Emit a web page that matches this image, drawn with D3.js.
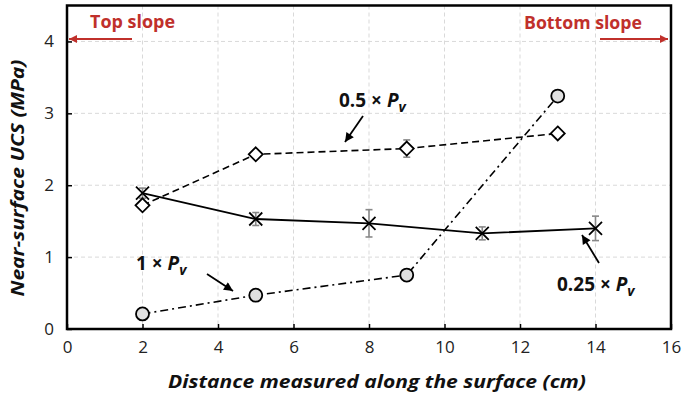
<!DOCTYPE html>
<html><head><meta charset="utf-8">
<script src="https://cdn.jsdelivr.net/npm/d3@7"></script>
<style>body{margin:0;background:#fff;} svg{display:block;font-family:"Open Sans",sans-serif;}</style>
</head><body><svg id="c" width="683" height="395"></svg>
<script>
// ---- data ----
const xTicks = [0, 2, 4, 6, 8, 10, 12, 14, 16];
const yTicks = [0, 1, 2, 3, 4];
const pv025X = [2, 5, 8, 11, 14];
const pv025Y = [1.89, 1.53, 1.47, 1.33, 1.40];
const pv025Err = [0.07, 0.09, 0.19, 0.09, 0.17];
const pv05X = [2, 5, 9, 13];
const pv05Y = [1.72, 2.43, 2.51, 2.72];
const pv05Err = [0, 0, 0.12, 0];
const pv1X = [2, 5, 9, 13];
const pv1Y = [0.21, 0.47, 0.75, 3.24];
const xTitle = "Distance measured along the surface (cm)";
const yTitle = "Near-surface UCS (MPa)";

// ---- layout ----
const svg = d3.select("#c");
const L = 67, R = 671, T = 5.5, B = 329;
const x = d3.scaleLinear().domain([0, 16]).range([L, R]);
const y = d3.scaleLinear().domain([0, 4.5]).range([B, T]);
const red = "#c0302b";

// grid
const g = svg.append("g");
g.selectAll(".vg").data(xTicks.filter(d => d > 0 && d < 16)).enter().append("line")
  .attr("x1", d => x(d)).attr("x2", d => x(d)).attr("y1", T).attr("y2", B)
  .attr("stroke", "#d9d9d9").attr("stroke-dasharray", "4,3").attr("stroke-width", 1);
g.selectAll(".hg").data(yTicks.filter(d => d > 0)).enter().append("line")
  .attr("x1", L).attr("x2", R).attr("y1", d => y(d)).attr("y2", d => y(d))
  .attr("stroke", "#d9d9d9").attr("stroke-dasharray", "4,3").attr("stroke-width", 1);

// axes
const xAxis = d3.axisBottom(x).tickValues(xTicks).tickFormat(d3.format("d")).tickSizeInner(-5).tickSizeOuter(0).tickPadding(12);
const yAxis = d3.axisLeft(y).tickValues(yTicks).tickFormat(d3.format("d")).tickSizeInner(-5).tickSizeOuter(0).tickPadding(13);
const gx = svg.append("g").attr("transform", `translate(0,${B})`).call(xAxis);
const gy = svg.append("g").attr("transform", `translate(${L},0)`).call(yAxis);
[gx, gy].forEach(a => {
  a.select(".domain").remove();
  a.selectAll(".tick line").attr("stroke", "#000").attr("stroke-width", 1.5);
  a.selectAll(".tick text").attr("font-size", 17).attr("fill", "#222").attr("font-family", "Open Sans");
});

// frame
svg.append("rect").attr("x", L).attr("y", T).attr("width", R - L).attr("height", B - T)
  .attr("fill", "none").attr("stroke", "#000").attr("stroke-width", 2.5);

// series lines
const mk = (xs, ys) => xs.map((d, i) => [d, ys[i]]);
const line = d3.line().x(d => x(d[0])).y(d => y(d[1]));
svg.append("path").datum(mk(pv1X, pv1Y)).attr("d", line).attr("fill", "none")
  .attr("stroke", "#000").attr("stroke-width", 1.6).attr("stroke-dasharray", "8,4,2,4");
svg.append("path").datum(mk(pv05X, pv05Y)).attr("d", line).attr("fill", "none")
  .attr("stroke", "#000").attr("stroke-width", 1.6).attr("stroke-dasharray", "7,4");
svg.append("path").datum(mk(pv025X, pv025Y)).attr("d", line).attr("fill", "none")
  .attr("stroke", "#000").attr("stroke-width", 1.8);

// error bars
function errBars(xs, ys, es) {
  xs.forEach((d, i) => {
    if (!es[i]) return;
    const cx = x(d), y1 = y(ys[i] + es[i]), y2 = y(ys[i] - es[i]);
    const eg = svg.append("g").attr("stroke", "#888").attr("stroke-width", 1.6);
    eg.append("line").attr("x1", cx).attr("x2", cx).attr("y1", y1).attr("y2", y2);
    eg.append("line").attr("x1", cx - 3.5).attr("x2", cx + 3.5).attr("y1", y1).attr("y2", y1);
    eg.append("line").attr("x1", cx - 3.5).attr("x2", cx + 3.5).attr("y1", y2).attr("y2", y2);
  });
}
errBars(pv025X, pv025Y, pv025Err);
errBars(pv05X, pv05Y, pv05Err);

// markers
svg.selectAll(".circ").data(mk(pv1X, pv1Y)).enter().append("circle")
  .attr("cx", d => x(d[0])).attr("cy", d => y(d[1])).attr("r", 6.5)
  .attr("fill", "#e0e0e0").attr("stroke", "#000").attr("stroke-width", 1.8);
svg.selectAll(".dia").data(mk(pv05X, pv05Y)).enter().append("path")
  .attr("d", d => { const cx = x(d[0]), cy = y(d[1]), s = 7; return `M${cx},${cy - s}L${cx + s},${cy}L${cx},${cy + s}L${cx - s},${cy}Z`; })
  .attr("fill", "#fff").attr("stroke", "#000").attr("stroke-width", 1.8);
svg.selectAll(".star").data(mk(pv025X, pv025Y)).enter().append("path")
  .attr("d", d => { const cx = x(d[0]), cy = y(d[1]), s = 6.5; return `M${cx - s},${cy - s}L${cx + s},${cy + s}M${cx - s},${cy + s}L${cx + s},${cy - s}`; })
  .attr("fill", "none").attr("stroke", "#000").attr("stroke-width", 1.8);

// arrowheads
const defs = svg.append("defs");
function marker(id, color, w, h) {
  defs.append("marker").attr("id", id).attr("viewBox", "0 0 10 10").attr("refX", 10).attr("refY", 5)
    .attr("markerUnits", "userSpaceOnUse").attr("markerWidth", w).attr("markerHeight", h).attr("orient", "auto")
    .append("path").attr("d", "M0,0L10,5L0,10Z").attr("fill", color);
}
marker("ar", red, 13, 8);
marker("ak", "#000", 11, 9);

function arrow(x1, y1, x2, y2, color, id, sw) {
  svg.append("line").attr("x1", x1).attr("y1", y1).attr("x2", x2).attr("y2", y2)
    .attr("stroke", color).attr("stroke-width", sw).attr("marker-end", `url(#${id})`);
}
arrow(132, 39, 69, 39, red, "ar", 2);
arrow(600, 39, 668, 39, red, "ar", 2);
arrow(363, 116, 345, 142, "#000", "ak", 1.8);
arrow(207, 274, 233, 291, "#000", "ak", 1.8);
arrow(599, 263, 582, 235, "#000", "ak", 1.8);

// slope labels
svg.append("text").attr("x", 90).attr("y", 28).attr("fill", red).attr("font-weight", "bold")
  .attr("font-size", 18).attr("textLength", 85).attr("lengthAdjust", "spacingAndGlyphs").text("Top slope");
svg.append("text").attr("x", 524).attr("y", 29).attr("fill", red).attr("font-weight", "bold")
  .attr("font-size", 18).attr("textLength", 118).attr("lengthAdjust", "spacingAndGlyphs").text("Bottom slope");

// series labels
function pvLabel(px, py, num) {
  const t = svg.append("text").attr("x", px).attr("y", py).attr("font-weight", "bold")
    .attr("font-size", 19).attr("fill", "#111");
  t.append("tspan").text(num + " × ");
  t.append("tspan").attr("font-style", "italic").text("P");
  t.append("tspan").attr("font-style", "italic").attr("font-size", 14).attr("dy", 5).text("v");
}
pvLabel(339, 107, "0.5");
pvLabel(136, 270, "1");
pvLabel(557, 291, "0.25");

// axis titles
svg.append("text").attr("x", (L + R) / 2 + 8).attr("y", 388).attr("text-anchor", "middle")
  .attr("font-weight", "bold").attr("font-style", "italic").attr("font-size", 18)
  .attr("textLength", 418).attr("lengthAdjust", "spacingAndGlyphs").attr("fill", "#111").text(xTitle);
svg.append("text").attr("transform", `translate(24,${178}) rotate(-90)`).attr("text-anchor", "middle")
  .attr("font-weight", "bold").attr("font-style", "italic").attr("font-size", 18)
  .attr("textLength", 237).attr("lengthAdjust", "spacingAndGlyphs").attr("fill", "#111").text(yTitle);
</script></body></html>
